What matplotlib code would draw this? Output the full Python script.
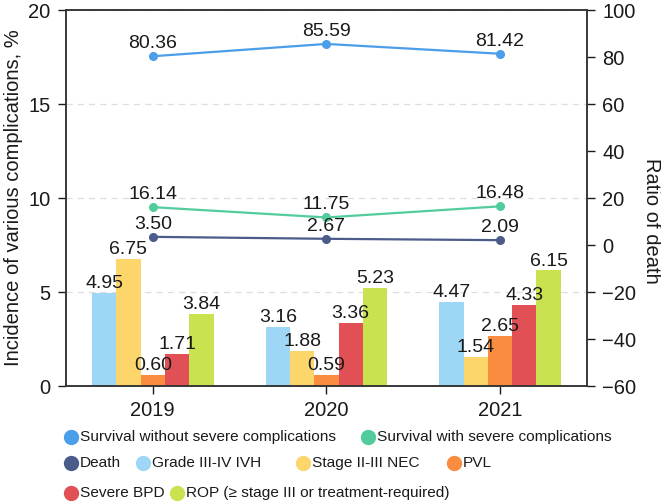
import matplotlib
matplotlib.use("Agg")
import matplotlib.pyplot as plt
from matplotlib.lines import Line2D
import numpy as np

plt.rcParams["font.family"] = ["Liberation Sans", "DejaVu Sans"]

# ---------- data ----------
years = ["2019", "2020", "2021"]

bar_names = ["Grade III-IV IVH", "Stage II-III NEC", "PVL", "Severe BPD",
             "ROP (\u2265 stage III or treatment-required)"]
ivh = [4.95, 3.16, 4.47]
nec = [6.75, 1.88, 1.54]
pvl = [0.60, 0.59, 2.65]
bpd = [1.71, 3.36, 4.33]
rop = [3.84, 5.23, 6.15]

line_names = ["Survival without severe complications",
              "Survival with severe complications", "Death"]
surv_without = [80.36, 85.59, 81.42]
surv_with = [16.14, 11.75, 16.48]
death = [3.50, 2.67, 2.09]

bar_colors = ["#9dd7f5", "#fcd56b", "#f98c3e", "#e05055", "#c9e350"]
line_colors = ["#4b9ee9", "#52cc9c", "#4b5b8a"]

W, H = 661, 504

# ---------- figure ----------
fig = plt.figure(figsize=(6.61, 5.04), dpi=100)
ax = fig.add_axes([0.0998, 0.234, 0.788, 0.746])
ax2 = ax.twinx()

x = np.arange(len(years))
bw = 0.14
bars = [ivh, nec, pvl, bpd, rop]
for i, (vals, col) in enumerate(zip(bars, bar_colors)):
    pos = x + (i - 2) * bw
    ax.bar(pos, vals, width=bw, color=col, zorder=2)
    for px, v in zip(pos, vals):
        ax.text(px, v + 0.05, f"{v:.2f}", ha="center", va="bottom",
                fontsize=14, color="#1a1a1a", zorder=5)

ax.set_xlim(-0.5, 2.5)
ax.set_ylim(0, 20)
ax.set_yticks([0, 5, 10, 15, 20])
ax.set_xticks(x)
ax.set_xticklabels(years)
ax.yaxis.grid(True, linestyle=(0, (5, 4)), color="#dedede", linewidth=0.9, zorder=0)
ax.set_axisbelow(True)
ax.set_ylabel("Incidence of various complications, %", fontsize=14.5, color="#1a1a1a", labelpad=4)

ax2.set_ylim(-60, 100)
ax2.set_yticks(np.arange(-60, 101, 20))
ax2.set_yticklabels([str(t).replace("-", "\u2212") for t in range(-60, 101, 20)])
# right axis title, placed like the original (slightly below centre)
fig.text(651 / W, 1 - 221 / H, "Ratio of death", fontsize=14.5, color="#1a1a1a",
         rotation=270, ha="center", va="center")

for vals, col in zip([surv_without, surv_with, death], line_colors):
    ax2.plot(x, vals, color=col, lw=1.6, marker="o", ms=5.5, zorder=4)
    for px, v in zip(x, vals):
        ax2.text(px, v + 1.8, f"{v:.2f}", ha="center", va="bottom",
                 fontsize=14, color="#1a1a1a", zorder=5)

for a in (ax, ax2):
    a.tick_params(axis="both", labelsize=14.5, colors="#1a1a1a", length=6,
                  width=1, direction="out", pad=5)
    for s in a.spines.values():
        s.set_color("#333333")
        s.set_linewidth(1.1)

# ---------- legend (flow layout) ----------
leg_items = [
    (line_colors[0], line_names[0], 71, 437),
    (line_colors[1], line_names[1], 368, 437),
    (line_colors[2], line_names[2], 71, 463),
    (bar_colors[0], bar_names[0], 143, 463),
    (bar_colors[1], bar_names[1], 303, 463),
    (bar_colors[2], bar_names[2], 454, 463),
    (bar_colors[3], bar_names[3], 71, 493),
    (bar_colors[4], bar_names[4], 177, 493),
]
for col, name, px, py in leg_items:
    fig.add_artist(Line2D([px / W], [1 - py / H], marker="o", ms=10,
                          color=col, lw=0, transform=fig.transFigure))
    fig.text((px + 9) / W, 1 - py / H, name, fontsize=11.1, color="#1a1a1a",
             ha="left", va="center")

fig.savefig("out.png", dpi=100)
